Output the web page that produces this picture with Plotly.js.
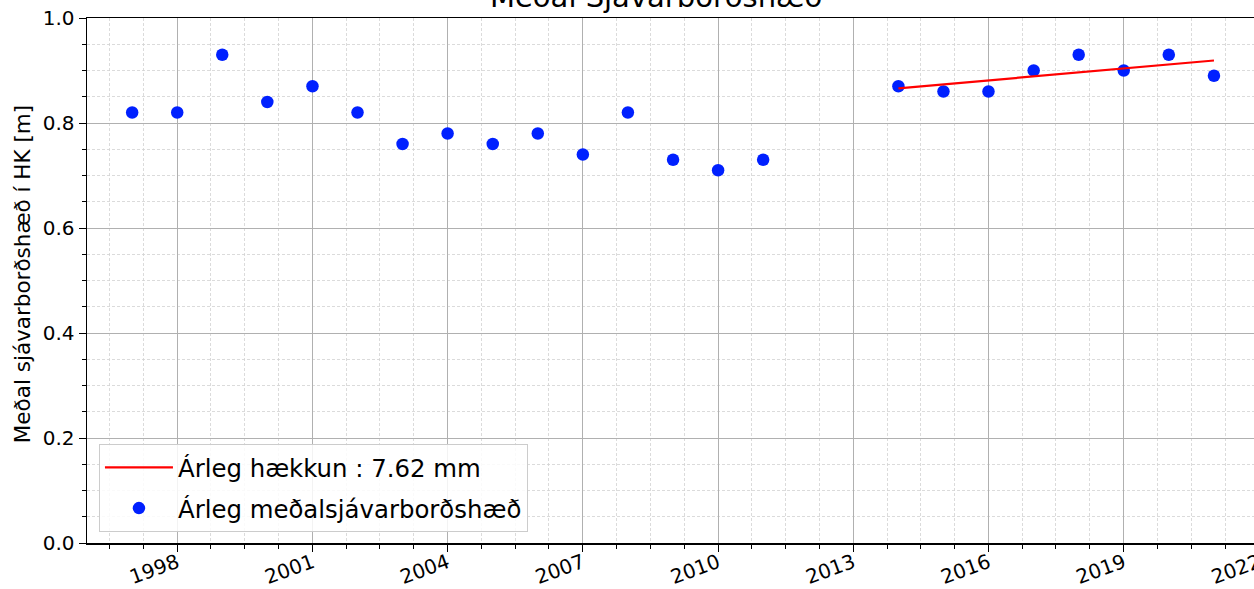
<!DOCTYPE html>
<html>
<head>
<meta charset="utf-8">
<script src="https://cdn.plot.ly/plotly-3.0.1.min.js"></script>
<style>
html, body { margin:0; padding:0; overflow:hidden; background:#fff; }
#chart { width:1270px; height:589px; }
</style>
</head>
<body>
<div id="chart"></div>
<script>
// Annual mean sea level (m)
const years = ['1997','1998','1999','2000','2001','2002','2003','2004','2005','2006','2007','2008','2009','2010','2011',
               '2014','2015','2016','2017','2018','2019','2020','2021'];
const meanLevel = [0.82,0.82,0.93,0.84,0.87,0.82,0.76,0.78,0.76,0.78,0.74,0.82,0.73,0.71,0.73,
                   0.87,0.86,0.86,0.90,0.93,0.90,0.93,0.89];
// Trend line end points
const trendYears = ['2014','2021'];
const trendLevel = [0.866, 0.919];

const titleText = 'Meðal Sjávarborðshæð';
const yTitle = 'Meðal sjávarborðshæð í HK [m]';
const lineName = 'Árleg hækkun : 7.62 mm';
const dotName = 'Árleg meðalsjávarborðshæð';

const toDate = y => y + '-01-01';

const font = 'DejaVu Sans, sans-serif';

const data = [
  {
    x: years.map(toDate), y: meanLevel, type: 'scatter', mode: 'markers',
    name: dotName, legendrank: 2, legendgroup: 'b',
    marker: {color: '#0020ff', size: 12.5}
  },
  {
    x: trendYears.map(toDate), y: trendLevel, type: 'scatter', mode: 'lines',
    name: lineName, legendrank: 1, legendgroup: 'a',
    line: {color: '#ff0000', width: 2.2}
  }
];

const layout = {
  width: 1270, height: 589,
  margin: {l: 87, r: 11, t: 18, b: 46},
  paper_bgcolor: '#ffffff', plot_bgcolor: '#ffffff',
  font: {family: font, color: '#000', size: 18},
  showlegend: true,
  legend: {
    x: 0.0102, y: 0.021, xanchor: 'left', yanchor: 'bottom',
    bgcolor: 'rgba(255,255,255,0.85)', bordercolor: '#cccccc', borderwidth: 1,
    font: {family: font, size: 24.4, color: '#000'},
    itemwidth: 68, tracegroupgap: 6
  },
  xaxis: {
    type: 'date',
    range: ['1996-01-01', '2022-01-01'],
    tick0: '1998-01-01', dtick: 'M36', tickformat: '%Y',
    tickangle: -20,
    ticklabelstandoff: -8,
    ticks: 'outside', ticklen: 7, tickwidth: 1, tickcolor: '#000',
    showline: true, linecolor: '#000', linewidth: 1.5, mirror: true,
    showgrid: true, gridcolor: '#b0b0b0', gridwidth: 1,
    zeroline: false,
    tickfont: {family: font, size: 20, color: '#000'},
    minor: {tick0: '1998-01-01', dtick: 'M9', ticks: 'outside', ticklen: 4, tickcolor: '#000',
            showgrid: true, gridcolor: '#d2d2d2', griddash: '3px,2px', gridwidth: 0.8}
  },
  yaxis: {
    range: [0, 1], dtick: 0.2, tick0: 0, tickformat: '.1f',
    ticks: 'outside', ticklen: 7, tickwidth: 1, tickcolor: '#000',
    showline: true, linecolor: '#000', linewidth: 1.5, mirror: true,
    showgrid: true, gridcolor: '#b0b0b0', gridwidth: 1,
    zeroline: false,
    tickfont: {family: font, size: 20, color: '#000'},
    minor: {dtick: 0.05, ticks: 'outside', ticklen: 4, tickcolor: '#000',
            showgrid: true, gridcolor: '#d2d2d2', griddash: '3px,2px', gridwidth: 0.8}
  },
  annotations: [
    {
      text: titleText, xref: 'paper', yref: 'paper', x: 0.5, y: 1,
      xanchor: 'center', yanchor: 'bottom', xshift: -17, yshift: 2, showarrow: false,
      font: {family: font, size: 29, color: '#000'}
    },
    {
      text: yTitle, xref: 'paper', yref: 'paper', x: 0, y: 0.512,
      xanchor: 'center', yanchor: 'middle', xshift: -65, textangle: -90, showarrow: false,
      font: {family: font, size: 21.5, color: '#000'}
    }
  ]
};

Plotly.newPlot('chart', data, layout, {displayModeBar: false, staticPlot: true});
</script>
</body>
</html>
